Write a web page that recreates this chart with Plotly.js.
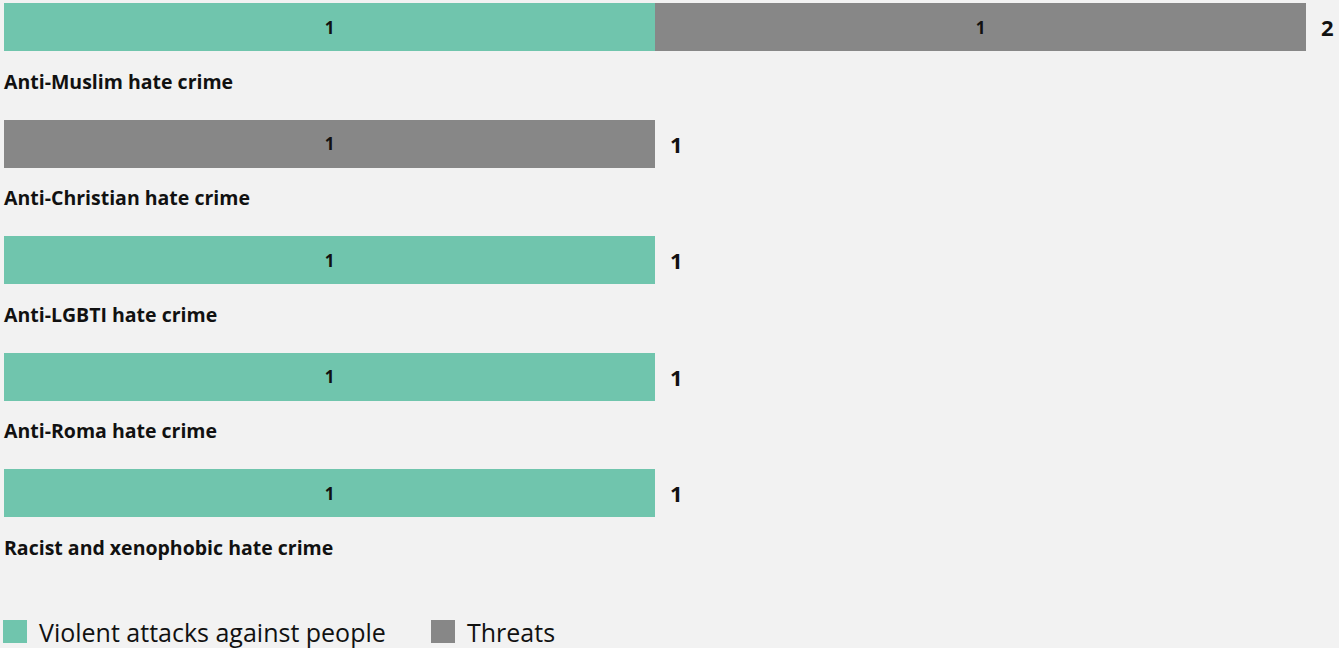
<!DOCTYPE html>
<html>
<head>
<meta charset="utf-8">
<script src="https://cdn.plot.ly/plotly-3.0.1.min.js"></script>
<style>html,body{margin:0;padding:0;background:#f2f2f2;}#chart{width:1339px;height:648px;}</style>
</head>
<body>
<div id="chart"></div>
<script>
const categories = ["Anti-Muslim hate crime","Anti-Christian hate crime","Anti-LGBTI hate crime","Anti-Roma hate crime","Racist and xenophobic hate crime"];
const violent = [1, null, 1, 1, 1];
const threats = [1, 1, null, null, null];
const seriesNames = ["Violent attacks against people", "Threats"];
const colors = ["#70c5ad", "#878787"];

const FONT = "'Open Sans', 'Noto Sans', sans-serif";
const totals = categories.map((c, i) => (violent[i] || 0) + (threats[i] || 0));

function barTrace(vals, name, color) {
  return {
    type: 'bar', orientation: 'h', y: categories, x: vals, name: name,
    marker: {color: color, line: {width: 0}},
    text: vals.map(v => v == null ? '' : '<b>' + v + '</b>'),
    textposition: 'inside', insidetextanchor: 'middle', constraintext: 'none',
    insidetextfont: {family: FONT, size: 17, color: '#111'},
    textfont: {family: FONT, size: 17, color: '#111'},
    hoverinfo: 'x+name', width: 0.412
  };
}

const annotations = [];
categories.forEach((c, i) => {
  annotations.push({
    xref: 'paper', yref: 'y', x: 0, y: c, xanchor: 'left', yanchor: 'middle',
    xshift: -2, yshift: -54, text: '<b>' + c + '</b>', showarrow: false,
    font: {family: FONT, size: 19.5, color: '#111'}
  });
  annotations.push({
    xref: 'x', yref: 'y', x: totals[i], y: c, xanchor: 'left', yanchor: 'middle',
    xshift: 13, text: '<b>' + totals[i] + '</b>', showarrow: false,
    font: {family: FONT, size: 22, color: '#111'}
  });
});

// custom legend (paper coords; plot area height 580px, width 1302px)
const shapes = [];
const legX = [-1/1302, 427/1302];
seriesNames.forEach((n, k) => {
  shapes.push({type: 'rect', xref: 'paper', yref: 'paper',
    x0: legX[k], x1: legX[k] + 24/1302, y0: -63/580, y1: -40/580,
    fillcolor: colors[k], line: {width: 0}});
  annotations.push({xref: 'paper', yref: 'paper', x: legX[k] + 34/1302, y: -52/580,
    xanchor: 'left', yanchor: 'middle', text: n, showarrow: false,
    font: {family: FONT, size: 25, color: '#111'}});
});

const data = [barTrace(violent, seriesNames[0], colors[0]), barTrace(threats, seriesNames[1], colors[1])];

const layout = {
  width: 1339, height: 648,
  paper_bgcolor: '#f2f2f2', plot_bgcolor: '#f2f2f2',
  barmode: 'stack', showlegend: false,
  margin: {l: 4, r: 33, t: 0, b: 68, pad: 0},
  xaxis: {range: [0, 2], visible: false, fixedrange: true},
  yaxis: {type: 'category', range: [4.7468, -0.2318], visible: false, fixedrange: true},
  annotations: annotations, shapes: shapes,
  font: {family: FONT}
};

Plotly.newPlot('chart', data, layout, {displayModeBar: false});
</script>
</body>
</html>
